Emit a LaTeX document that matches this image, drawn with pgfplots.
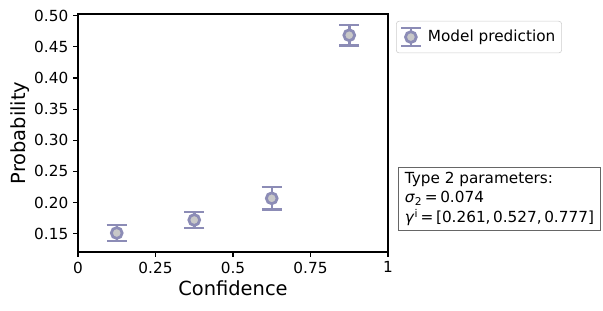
\documentclass[border=0pt]{standalone}
\usepackage{pgfplots}
\pgfplotsset{compat=1.18}
\usepackage{fontspec}
\setmainfont{DejaVu Sans}
\definecolor{ebc}{RGB}{140,140,182}
\definecolor{mfc}{RGB}{200,200,200}
\begin{document}
\begin{tikzpicture}
\begin{axis}[
  name=ax,
  scale only axis,
  width=223.2bp, height=171.36bp,
  xmin=0, xmax=1, ymin=0.1206, ymax=0.5027,
  xtick={0,0.25,0.5,0.75,1},
  xticklabels={0,0.25,0.5,0.75,1},
  ytick={0.15,0.2,0.25,0.3,0.35,0.4,0.45,0.5},
  yticklabel style={/pgf/number format/.cd,fixed,fixed zerofill,precision=2},
  /pgf/number format/assume math mode=true,
  tick align=outside,
  tick pos=left,
  major tick length=3.5bp,
  axis line style={line width=0.8bp},
  tick style={line width=0.8bp, black},
  ticklabel style={font=\fontsize{11bp}{13bp}\selectfont},
  xlabel={Confidence}, ylabel={Probability},
  label style={font=\fontsize{14bp}{16bp}\selectfont},
  xlabel style={yshift=1.3bp},
  ylabel style={yshift=-3.5bp},
  legend style={at={(1,1)}, anchor=north west, xshift=5.8bp, yshift=-5bp,
    draw=black!20, rounded corners=2bp, font=\fontsize{11bp}{13bp}\selectfont,
    inner xsep=2.5bp, inner ysep=4bp},
  legend cell align=left,
  legend image code/.code={
    \draw[ebc, line width=1.8bp] (0.05cm,-0.23cm) -- (0.55cm,-0.23cm);
    \draw[ebc, line width=1.8bp] (0.05cm,0.23cm) -- (0.55cm,0.23cm);
    \draw[ebc, line width=1.8bp] (0.3cm,-0.23cm) -- (0.3cm,0.23cm);
    \draw[ebc, fill=mfc, line width=2bp] (0.3cm,0cm) circle (3.9bp);
    \path (0.55cm+3bp,0cm);
  },
]
\addplot[
  only marks, mark=*, 
  mark options={draw=ebc, fill=mfc, line width=2bp},
  mark size=3.9bp,
  error bars/.cd, y dir=both, y explicit,
  error bar style={ebc, line width=1.8bp},
  error mark options={ebc, rotate=90, mark size=7.2bp, line width=1.8bp},
] coordinates {
  (0.125,0.1511) +- (0,0.0131)
  (0.375,0.1720) +- (0,0.0126)
  (0.625,0.2068) +- (0,0.0178)
  (0.875,0.4686) +- (0,0.0166)
};
\addlegendentry{Model prediction}
\end{axis}
\node[anchor=north west, draw=black!60, line width=0.8bp, inner xsep=4.5bp, inner ysep=3.5bp,
  align=left, font=\fontsize{11bp}{13.5bp}\selectfont]
  at ([xshift=7.2bp, yshift=-110.2bp]ax.north east)
  {Type 2 parameters:\\
   \textit{σ}\textsubscript{2}\,=\,0.074\\[1bp]
   \textit{γ}\textsuperscript{i}\,=\,[0.261,\,0.527,\,0.777]};
\pgfresetboundingbox
\path ([xshift=-56.16bp, yshift=-42.48bp]ax.south west) rectangle ([xshift=154.8bp, yshift=10.08bp]ax.north east);
\end{tikzpicture}
\end{document}
